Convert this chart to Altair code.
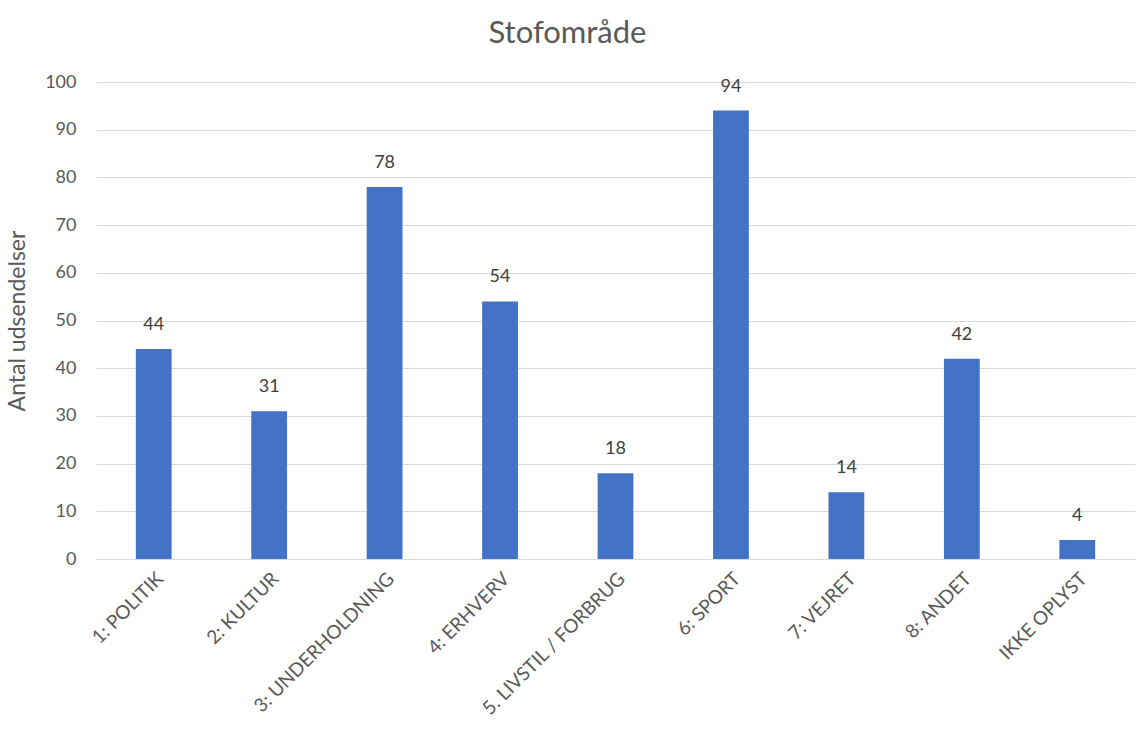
import altair as alt
import pandas as pd

categories = ["1: POLITIK", "2: KULTUR", "3: UNDERHOLDNING", "4: ERHVERV",
              "5. LIVSTIL / FORBRUG", "6: SPORT", "7: VEJRET", "8: ANDET", "IKKE OPLYST"]
values = [44, 31, 78, 54, 18, 94, 14, 42, 4]

df = pd.DataFrame({"cat": categories, "val": values})

FONT = "Lato"
GREY = "#595959"

base = alt.Chart(df).encode(
    x=alt.X("cat:N", sort=categories, title=None,
            scale=alt.Scale(paddingInner=0.69, paddingOuter=0.345),
            axis=alt.Axis(labelAngle=-45, labelFont=FONT, labelFontSize=19,
                          labelColor=GREY, ticks=False, domain=True,
                          domainColor="#d9d9d9", labelPadding=10, labelLimit=400)),
)

bars = base.mark_bar(color="#4472C4").encode(
    y=alt.Y("val:Q", title="Antal udsendelser",
            scale=alt.Scale(domain=[0, 100]),
            axis=alt.Axis(values=list(range(0, 101, 10)), labelFont=FONT,
                          labelFontSize=18, labelColor=GREY, ticks=False,
                          domain=False, gridColor="#d9d9d9", labelPadding=20,
                          titleFont=FONT, titleFontSize=23, titleColor=GREY,
                          titleFontWeight="normal", titlePadding=15))
)

labels = base.mark_text(font=FONT, fontSize=18, color="#404040",
                        baseline="bottom", dy=-15).encode(
    y="val:Q", text="val:Q"
)

chart = (bars + labels).properties(
    width=1039, height=477, autosize="none",
    padding={"left": 96, "top": 82, "right": 12, "bottom": 181},
    title=alt.TitleParams("Stofområde", font=FONT, fontSize=31, color=GREY,
                          fontWeight="normal", dx=-48, offset=23, anchor="middle"),
).configure_view(stroke=None)

chart.save("out.html", embed_options={"renderer": "svg", "actions": False})
